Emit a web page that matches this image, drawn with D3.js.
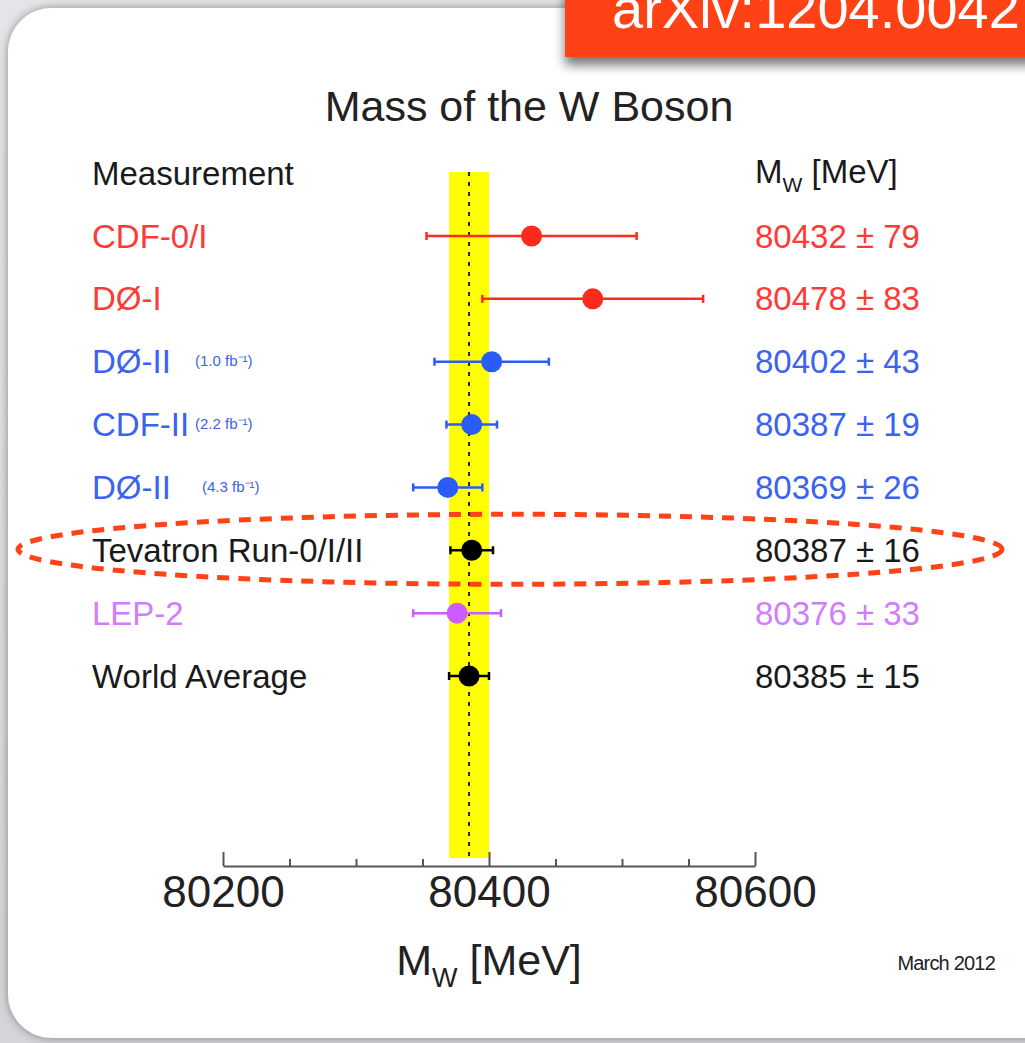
<!DOCTYPE html>
<html lang="en">
<head>
    <meta charset="UTF-8">
    <title>Mass of the W Boson</title>
    <style>
        html, body {
            margin: 0;
            padding: 0;
            background: #dcdee1;
            overflow: hidden;
        }

        text {
            font-family: "Liberation Sans", Arial, Helvetica, sans-serif;
        }
    </style>
    <script src="https://cdn.jsdelivr.net/npm/d3@7"></script>
</head>
<body>
<svg class="chart" width="1025" height="1043"></svg>
<script>
    // measurements (MeV)
    const names = ['CDF-0/I', 'D\u00d8-I', 'D\u00d8-II', 'CDF-II', 'D\u00d8-II', 'Tevatron Run-0/I/II', 'LEP-2', 'World Average'],
        notes = ['', '', '(1.0 fb\u207b\u00b9)', '(2.2 fb\u207b\u00b9)', '(4.3 fb\u207b\u00b9)', '', '', ''],
        values = [80432, 80478, 80402, 80387, 80369, 80387, 80376, 80385],
        errors = [79, 83, 43, 19, 26, 16, 33, 15],
        groups = ['run1', 'run1', 'run2', 'run2', 'run2', 'comb', 'lep', 'comb'],
        xTicks = [80200, 80400, 80600];

    const markColor = {run1: '#ff2a1c', run2: '#2a5cf6', comb: '#000', lep: '#cc5cff'},
        textColor = {run1: '#ff3a36', run2: '#3a63f2', comb: '#1a1a1a', lep: '#d27cff'},
        noteX = [0, 0, 195, 195, 202, 0, 0, 0],
        orange = '#ff4316';

    const svg = d3.select('.chart');

    // background + card
    let defs = svg.append('defs');
    let bg = defs.append('linearGradient').attr('id', 'bg').attr('x1', 0).attr('x2', 0).attr('y1', 0).attr('y2', 1);
    bg.append('stop').attr('offset', 0).attr('stop-color', '#e4e5e8');
    bg.append('stop').attr('offset', 1).attr('stop-color', '#d3d5d9');
    let sh = defs.append('filter').attr('id', 'shadow').attr('x', -0.1).attr('y', -0.1).attr('width', 1.3).attr('height', 1.5);
    sh.append('feGaussianBlur').attr('in', 'SourceAlpha').attr('stdDeviation', 6);
    sh.append('feOffset').attr('dx', 0).attr('dy', 8).attr('result', 'b');
    sh.append('feComponentTransfer').append('feFuncA').attr('type', 'linear').attr('slope', 0.55);
    let m = sh.append('feMerge');
    m.append('feMergeNode');
    m.append('feMergeNode').attr('in', 'SourceGraphic');
    let cardSh = defs.append('filter').attr('id', 'cardShadow').attr('x', -0.05).attr('y', -0.05).attr('width', 1.1).attr('height', 1.1);
    cardSh.append('feGaussianBlur').attr('in', 'SourceAlpha').attr('stdDeviation', 5);
    cardSh.append('feOffset').attr('dx', 0).attr('dy', 0).attr('result', 'b');
    cardSh.append('feComponentTransfer').append('feFuncA').attr('type', 'linear').attr('slope', 0.4);
    let m2 = cardSh.append('feMerge');
    m2.append('feMergeNode');
    m2.append('feMergeNode').attr('in', 'SourceGraphic');

    svg.append('rect').attr('width', 1025).attr('height', 1043).attr('fill', 'url(#bg)');
    svg.append('rect')
        .attr('x', 8).attr('y', 8).attr('width', 1100).attr('height', 1030)
        .attr('rx', 44).attr('fill', '#fff')
        .attr('filter', 'url(#cardShadow)');

    // scales
    let x = d3.scaleLinear().domain([80200, 80600]).range([223, 755]),
        y = d3.scaleLinear().domain([0, names.length - 1]).range([236, 676]);

    const bandTop = 172, bandBottom = 858, axisY = 866;
    const avg = values[values.length - 1], avgErr = errors[errors.length - 1];

    // world average band
    svg.append('rect')
        .attr('x', x(avg - avgErr))
        .attr('y', bandTop)
        .attr('width', x(avg + avgErr) - x(avg - avgErr))
        .attr('height', bandBottom - bandTop)
        .attr('fill', '#ffff00');

    svg.append('line')
        .attr('x1', x(avg)).attr('x2', x(avg))
        .attr('y1', bandTop).attr('y2', bandBottom)
        .attr('stroke', '#222').attr('stroke-width', 2)
        .attr('stroke-dasharray', '4,6');

    // title
    svg.append('text')
        .attr('x', 529).attr('y', 121)
        .attr('text-anchor', 'middle')
        .attr('font-size', 43)
        .attr('fill', '#222')
        .text('Mass of the W Boson');

    // column headers
    svg.append('text')
        .attr('x', 92).attr('y', y(-1)).attr('dy', '0.35em')
        .attr('font-size', 33).attr('fill', '#1a1a1a')
        .text('Measurement');

    let hdr = svg.append('text')
        .attr('x', 755).attr('y', y(-1)).attr('dy', '0.3em')
        .attr('font-size', 33).attr('fill', '#1a1a1a');
    hdr.append('tspan').text('M');
    hdr.append('tspan').attr('font-size', 21).attr('dy', 9).text('W');
    hdr.append('tspan').attr('dy', -9).text(' [MeV]');

    // rows
    let rows = svg.selectAll('g.row')
        .data(values).enter().append('g')
        .attr('class', 'row')
        .attr('transform', (d, i) => 'translate(0,' + y(i) + ')');

    rows.append('text')
        .attr('x', 92).attr('dy', '0.35em')
        .attr('font-size', 33)
        .attr('fill', (d, i) => textColor[groups[i]])
        .text((d, i) => names[i]);

    rows.each(function (d, i) {
        if (!notes[i]) return;
        d3.select(this).append('text')
            .attr('x', noteX[i]).attr('dy', '0.3em')
            .attr('font-size', 15)
            .attr('fill', textColor[groups[i]])
            .text(notes[i]);
    });

    rows.append('text')
        .attr('x', 755).attr('dy', '0.35em')
        .attr('font-size', 33)
        .attr('fill', (d, i) => textColor[groups[i]])
        .text((d, i) => d + ' \u00b1 ' + errors[i]);

    // error bars
    rows.append('line')
        .attr('x1', (d, i) => x(d - errors[i]))
        .attr('x2', (d, i) => x(d + errors[i]))
        .attr('stroke', (d, i) => markColor[groups[i]])
        .attr('stroke-width', 2.5);

    rows.selectAll('line.cap')
        .data((d, i) => [[d - errors[i], groups[i]], [d + errors[i], groups[i]]])
        .enter().append('line')
        .attr('class', 'cap')
        .attr('x1', d => x(d[0])).attr('x2', d => x(d[0]))
        .attr('y1', -4).attr('y2', 4)
        .attr('stroke', d => markColor[d[1]])
        .attr('stroke-width', 2.5);

    rows.append('circle')
        .attr('cx', d => x(d))
        .attr('r', 10.5)
        .attr('fill', (d, i) => markColor[groups[i]]);

    // x axis
    let minor = d3.range(80200, 80601, 50).filter(v => xTicks.indexOf(v) < 0);
    svg.append('g')
        .attr('transform', 'translate(0,' + axisY + ')')
        .call(d3.axisBottom(x).tickValues(minor).tickSize(-7).tickFormat(''))
        .call(g => g.select('.domain').remove())
        .call(g => g.selectAll('line').attr('stroke', '#555').attr('stroke-width', 2));

    let axis = svg.append('g')
        .attr('transform', 'translate(0,' + axisY + ')')
        .call(d3.axisBottom(x).tickValues(xTicks).tickSize(-14).tickSizeOuter(0).tickPadding(10).tickFormat(d3.format('d')));
    axis.select('.domain').attr('stroke', '#555').attr('stroke-width', 2);
    axis.selectAll('line').attr('stroke', '#555').attr('stroke-width', 2);
    axis.selectAll('text')
        .attr('font-size', 44)
        .attr('font-family', '"Liberation Sans", Arial, sans-serif')
        .attr('fill', '#222');

    let xt = svg.append('text')
        .attr('x', 489).attr('y', 975)
        .attr('text-anchor', 'middle')
        .attr('font-size', 43).attr('fill', '#222');
    xt.append('tspan').text('M');
    xt.append('tspan').attr('font-size', 27).attr('dy', 12).text('W');
    xt.append('tspan').attr('dy', -12).text(' [MeV]');

    svg.append('text')
        .attr('x', 995).attr('y', 970)
        .attr('text-anchor', 'end')
        .attr('font-size', 20).attr('letter-spacing', -0.8).attr('fill', '#222')
        .text('March 2012');

    // highlight ellipse round the Tevatron combination
    svg.append('ellipse')
        .attr('cx', 510).attr('cy', y(5) - 1)
        .attr('rx', 492).attr('ry', 35)
        .attr('fill', 'none')
        .attr('stroke', orange).attr('stroke-width', 5)
        .attr('stroke-dasharray', '12,9');

    // arXiv tag
    let tag = svg.append('g').attr('filter', 'url(#shadow)');
    tag.append('rect')
        .attr('x', 565).attr('y', -20).attr('width', 500).attr('height', 77)
        .attr('fill', orange);
    svg.append('text')
        .attr('x', 612).attr('y', 28)
        .attr('font-family', '"Lato", "Open Sans", sans-serif')
        .attr('font-size', 56)
        .attr('fill', '#fff')
        .text('arXiv:1204.0042');
</script>
</body>
</html>
